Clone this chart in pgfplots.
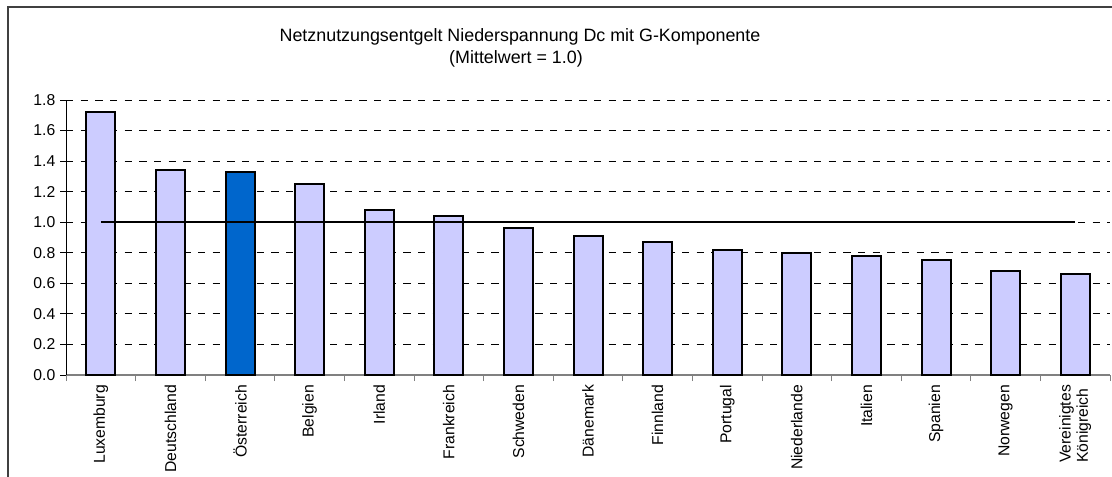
\documentclass[border=0pt]{standalone}
\usepackage{fontspec}
\setmainfont{Liberation Sans}
\usepackage{pgfplots}
\pgfplotsset{compat=1.18}
\definecolor{barlight}{HTML}{CCCCFF}
\definecolor{barblue}{HTML}{0066CC}
\definecolor{axgray}{HTML}{808080}
\begin{document}
\begin{tikzpicture}
\useasboundingbox (0,0) rectangle (834pt,357pt);
\draw[line width=1pt, color=black!75] (6pt,-20pt) rectangle (860pt,351.75pt);
\node[anchor=base, font=\fontsize{13.4}{16}\selectfont] at (390pt,325.5pt) {Netznutzungsentgelt Niederspannung Dc mit G-Komponente};
\node[anchor=base, font=\fontsize{13.4}{16}\selectfont] at (387pt,309.3pt) {(Mittelwert = 1.0)};
\begin{axis}[
  at={(49.5pt,75.75pt)}, anchor=south west,
  scale only axis, width=783pt, height=206.25pt,
  xmin=-0.5, xmax=14.5, ymin=0, ymax=1.8,
  axis x line*=bottom, axis y line*=left,
  axis line style={-},
  x axis line style={color=axgray, line width=1.1pt},
  y axis line style={color=black, line width=0.7pt},
  tick align=outside,
  major tick length=4.5pt,
  minor tick length=4.5pt,
  xtick={0,...,14},
  minor xtick={-0.5,0.5,...,14.5},
  major x tick style={draw=none},
  minor x tick style={draw=axgray, line width=0.7pt},
  ytick={0,0.2,...,1.8},
  y tick style={draw=black, line width=0.7pt},
  xticklabels={Luxemburg,Deutschland,Österreich,Belgien,Irland,Frankreich,Schweden,Dänemark,Finnland,Portugal,Niederlande,Italien,Spanien,Norwegen,{Vereinigtes\\Königreich}},
  xticklabel style={rotate=90, anchor=east, align=left, font=\fontsize{11.8}{13}\selectfont, inner sep=2.8pt},
  yticklabel style={font=\fontsize{11.8}{13.5}\selectfont, /pgf/number format/.cd, fixed, fixed zerofill, precision=1, assume math mode=true},
  ymajorgrids,
  major grid style={color=black, dash pattern=on 5.5pt off 5.5pt, line width=0.6pt},
  clip=false,
]
\addplot[ybar, bar width=21.75pt, bar shift=0pt, fill=barlight, draw=black, line width=1.5pt]
  coordinates {(0,1.72) (1,1.34) (3,1.25) (4,1.08) (5,1.04) (6,0.96) (7,0.91) (8,0.87) (9,0.82) (10,0.80) (11,0.78) (12,0.75) (13,0.68) (14,0.66)};
\addplot[ybar, bar width=21.75pt, bar shift=0pt, fill=barblue, draw=black, line width=1.5pt]
  coordinates {(2,1.33)};
\addplot[black, line width=1.8pt, mark=none] coordinates {(0,1.0) (14,1.0)};
\end{axis}
\end{tikzpicture}
\end{document}
